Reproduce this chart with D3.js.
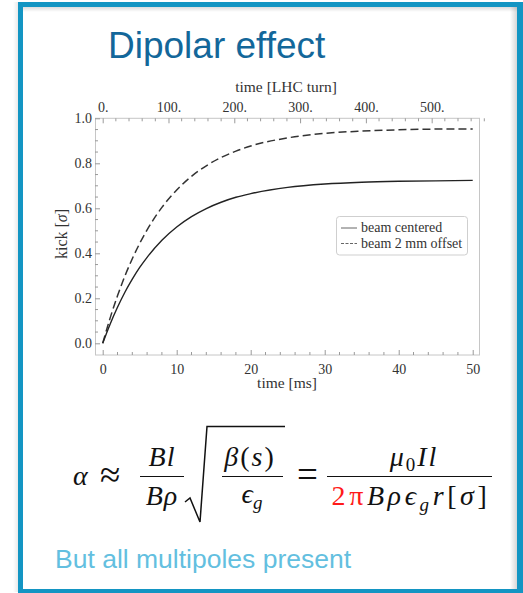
<!DOCTYPE html>
<html>
<head>
<meta charset="utf-8">
<script src="https://cdn.jsdelivr.net/npm/d3@7"></script>
<style>
  html, body { margin: 0; padding: 0; background: #fff; }
  svg { display: block; }
</style>
</head>
<body>
<script>
// Kick amplitude vs. time for the two beam positions
const timeMs = [0, 1, 2, 3, 4, 5, 6, 8, 10, 12, 14, 16, 18, 20, 25, 30, 35, 40, 45, 50];
const kickCentered = [0, 0.085, 0.160, 0.227, 0.285, 0.337, 0.382, 0.458, 0.517, 0.563, 0.599, 0.627, 0.649, 0.665, 0.693, 0.708, 0.716, 0.720, 0.722, 0.724];
const kickOffset = [0, 0.112, 0.211, 0.299, 0.376, 0.444, 0.504, 0.604, 0.681, 0.742, 0.789, 0.826, 0.854, 0.877, 0.913, 0.933, 0.943, 0.949, 0.952, 0.953];
const seriesNames = ["beam centered", "beam 2 mm offset"];

// Axis ticks
const msTicks = [0, 10, 20, 30, 40, 50];
const msMinorTicks = d3.range(0, 51, 2);
const kickTicks = [0, 0.2, 0.4, 0.6, 0.8, 1.0];
const kickMinorTicks = d3.range(0, 1.001, 0.05);
const turnTicks = [0, 100, 200, 300, 400, 500];
const turnMinorTicks = d3.range(0, 581, 20);
const msPerTurn = 0.08891; // one LHC revolution

const W = 523, H = 593;
const svg = d3.select("body").append("svg").attr("width", W).attr("height", H);

const defs = svg.append("defs");
function grad(id, x1, y1, x2, y2, stops) {
  const g = defs.append("linearGradient").attr("id", id)
    .attr("x1", x1).attr("y1", y1).attr("x2", x2).attr("y2", y2);
  stops.forEach(s => g.append("stop").attr("offset", s[0]).attr("stop-color", s[1]).attr("stop-opacity", s[2]));
}
grad("shTop", 0, 0, 0, 1, [[0, "#000", 0.16], [1, "#000", 0]]);
grad("shRight", 1, 0, 0, 0, [[0, "#000", 0.16], [1, "#000", 0]]);
grad("shLeft", 1, 0, 0, 0, [[0, "#000", 0.10], [1, "#000", 0]]);

// Slide panel frame with soft shading
svg.append("rect").attr("x", 13).attr("y", 2).attr("width", 6).attr("height", 590).attr("fill", "url(#shLeft)");
svg.append("rect").attr("x", 22).attr("y", 6).attr("width", 495).attr("height", 6).attr("fill", "url(#shTop)");
svg.append("rect").attr("x", 510).attr("y", 6).attr("width", 7).attr("height", 584).attr("fill", "url(#shRight)");
svg.append("rect").attr("x", 20.5).attr("y", 4.5).attr("width", 499).attr("height", 587)
  .attr("fill", "none").attr("stroke", "#1395c3").attr("stroke-width", 5);
svg.append("rect").attr("x", 517).attr("y", 2).attr("width", 6).attr("height", 591).attr("fill", "#1395c3");

// Title
svg.append("text").attr("x", 108).attr("y", 58)
  .attr("font-family", "Liberation Sans, Arial, sans-serif").attr("font-size", 37)
  .attr("fill", "#13679a").text("Dipolar effect");

// Plot geometry
const plot = { left: 95, right: 479, top: 118.3, bottom: 355 };
const x = d3.scaleLinear().domain([-1.04, 50.85]).range([plot.left, plot.right]);
const y = d3.scaleLinear().domain([-0.052, 1.0]).range([plot.bottom, plot.top]);
const xTurn = d3.scaleLinear().domain(x.domain().map(v => v / msPerTurn)).range([plot.left, plot.right]);

const serif = "Liberation Serif, Times New Roman, serif";
const tickColor = "#9a9a9a";
const labelColor = "#333";

const g = svg.append("g");

// Frame
g.append("rect").attr("x", plot.left + 0.5).attr("y", plot.top).attr("width", plot.right - plot.left)
  .attr("height", plot.bottom - plot.top).attr("fill", "none").attr("stroke", "#c6c6c6").attr("stroke-width", 1);

// Bottom axis (ms)
const bottomAxis = d3.axisBottom(x).tickValues(msTicks).tickSize(-5).tickPadding(9).tickFormat(d3.format("d"));
const gb = g.append("g").attr("transform", `translate(0,${plot.bottom})`).call(bottomAxis);
gb.append("g").selectAll("line").data(msMinorTicks.filter(v => !msTicks.includes(v))).join("line")
  .attr("x1", d => x(d)).attr("x2", d => x(d)).attr("y1", 0).attr("y2", -3);

// Left axis (kick)
const leftAxis = d3.axisLeft(y).tickValues(kickTicks).tickSize(-5).tickPadding(3).tickFormat(d3.format(".1f"));
const gl = g.append("g").attr("transform", `translate(${plot.left},0)`).call(leftAxis);
gl.append("g").selectAll("line").data(kickMinorTicks.filter(v => !kickTicks.some(t => Math.abs(t - v) < 1e-6))).join("line")
  .attr("x1", 0).attr("x2", 3).attr("y1", d => y(d)).attr("y2", d => y(d));

// Top axis (LHC turns)
const topAxis = d3.axisTop(xTurn).tickValues(turnTicks).tickSize(-5).tickPadding(6).tickFormat(d => d + ".");
const gt = g.append("g").attr("transform", `translate(0,${plot.top})`).call(topAxis);
gt.append("g").selectAll("line").data(turnMinorTicks.filter(v => !turnTicks.includes(v))).join("line")
  .attr("x1", d => xTurn(d)).attr("x2", d => xTurn(d)).attr("y1", 0).attr("y2", 3);

[gb, gl, gt].forEach(a => {
  a.select(".domain").remove();
  a.selectAll("line").attr("stroke", tickColor);
  a.selectAll("text").attr("font-family", serif).attr("font-size", 14).attr("fill", labelColor);
});

// Axis titles
svg.append("text").attr("x", 287).attr("y", 388).attr("text-anchor", "middle")
  .attr("font-family", serif).attr("font-size", 15.5).attr("fill", labelColor).text("time [ms]");
svg.append("text").attr("x", 286).attr("y", 92).attr("text-anchor", "middle")
  .attr("font-family", serif).attr("font-size", 15.5).attr("fill", labelColor).text("time [LHC turn]");
const yl = svg.append("text").attr("transform", "translate(67,234) rotate(-90)").attr("text-anchor", "middle")
  .attr("font-family", serif).attr("font-size", 16).attr("fill", labelColor);
yl.append("tspan").text("kick [");
yl.append("tspan").attr("font-style", "italic").text("σ");
yl.append("tspan").text("]");

// Curves
const line = d3.line().x(d => x(d[0])).y(d => y(d[1])).curve(d3.curveMonotoneX);
const centered = timeMs.map((t, i) => [t, kickCentered[i]]);
const offset = timeMs.map((t, i) => [t, kickOffset[i]]);
g.append("path").attr("d", line(offset)).attr("fill", "none").attr("stroke", "#333")
  .attr("stroke-width", 1.5).attr("stroke-dasharray", "8,4");
g.append("path").attr("d", line(centered)).attr("fill", "none").attr("stroke", "#222")
  .attr("stroke-width", 1.4);

// Legend
const lg = svg.append("g");
lg.append("rect").attr("x", 336.5).attr("y", 216.5).attr("width", 131).attr("height", 38.5).attr("rx", 3)
  .attr("fill", "#fff").attr("stroke", "#cfcfcf");
const dashes = [null, "3,1.5"];
seriesNames.forEach((name, i) => {
  const yy = 228 + i * 15.5;
  lg.append("line").attr("x1", 341).attr("x2", 357).attr("y1", yy).attr("y2", yy)
    .attr("stroke", "#555").attr("stroke-width", 0.9).attr("stroke-dasharray", dashes[i]);
  lg.append("text").attr("x", 361).attr("y", yy + 4).attr("font-family", serif).attr("font-size", 14)
    .attr("fill", labelColor).text(name);
});

// Kick formula
const fm = svg.append("g").attr("font-family", "Liberation Serif, DejaVu Serif, serif").attr("font-size", 28).attr("fill", "#111");
function t(xp, yp, anchor) {
  return fm.append("text").attr("x", xp).attr("y", yp).attr("text-anchor", anchor || "start");
}
function it(sel, s) { return sel.append("tspan").attr("font-style", "italic").text(s); }
function up(sel, s) { return sel.append("tspan").text(s); }
function rule(x1, x2) {
  fm.append("line").attr("x1", x1).attr("x2", x2).attr("y1", 476.5).attr("y2", 476.5)
    .attr("stroke", "#111").attr("stroke-width", 1.2);
}
it(t(73, 485), "α");
t(100, 487).attr("font-size", 37).text("≈");

// Bl / Bρ
it(t(162, 466, "middle").attr("letter-spacing", 1), "Bl");
it(t(162, 505, "middle").attr("letter-spacing", 1), "Bρ");
rule(140, 184);

// Square root of β(s)/ϵg
fm.append("path").attr("d", "M185,502 L190,498 L200,522 L207,426.5 L285,426.5")
  .attr("fill", "none").attr("stroke", "#111").attr("stroke-width", 1.5).attr("stroke-linejoin", "miter");
const bs = t(250, 466, "middle").attr("letter-spacing", 2);
it(bs, "β"); up(bs, "("); it(bs, "s"); up(bs, ")");
const eg = t(252, 503, "middle");
it(eg, "ϵ");
eg.append("tspan").attr("font-style", "italic").attr("font-size", 19).attr("dy", 6).text("g");
rule(222, 283);

t(297, 487).attr("font-size", 37).text("=");

// μ0Il / 2πBρϵg r[σ]
const num = t(414, 466, "middle").attr("letter-spacing", 2);
it(num, "μ");
num.append("tspan").attr("font-size", 19).attr("dy", 5).text("0");
num.append("tspan").attr("dy", -5).attr("font-style", "italic").text("Il");
rule(327, 492);
const den = t(411, 505, "middle").attr("letter-spacing", 3.6);
den.append("tspan").attr("fill", "#ff1a1a").text("2π");
it(den, "Bρϵ");
den.append("tspan").attr("font-style", "italic").attr("font-size", 19).attr("dy", 6).text("g");
den.append("tspan").attr("dy", -6).attr("font-style", "italic").text("r");
up(den, "["); it(den, "σ"); up(den, "]");

// Closing remark
svg.append("text").attr("x", 55).attr("y", 568)
  .attr("font-family", "Liberation Sans, Arial, sans-serif").attr("font-size", 26.5)
  .attr("fill", "#63bfe0").text("But all multipoles present");
</script>
</body>
</html>
